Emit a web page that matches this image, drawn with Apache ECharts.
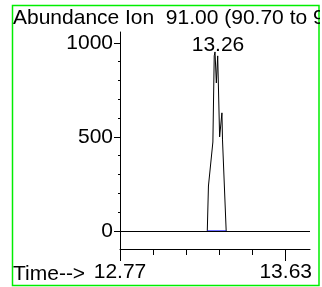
<!DOCTYPE html>
<html>
<head>
<meta charset="utf-8">
<script src="https://cdn.jsdelivr.net/npm/echarts@6/dist/echarts.min.js"></script>
<style>
  html, body { margin: 0; padding: 0; background: #fff; }
  #c { width: 320px; height: 287px; overflow: hidden; }
</style>
</head>
<body>
<div id="c"></div>
<script>
// ---- data ----
const times = [13.223, 13.229, 13.252, 13.259, 13.263, 13.270, 13.277, 13.287, 13.299, 13.302, 13.321];
const abundances = [0, 239, 473, 931, 952, 787, 931, 500, 628, 484, 0];
const baselineTimes = [13.223, 13.321];
const baselineValues = [0, 0];
const xRange = [12.77, 13.756];
const yRange = [-96, 1058];
const xLabelTicks = [12.77, 13.63];
const xSmallTicks = [12.942, 13.114, 13.286, 13.458];
const yLabelTicks = [0, 500, 1000];
const ySmallTicks = [100, 200, 300, 400, 600, 700, 800, 900];
const yTitle = 'Abundance';
const ionTitle = 'Ion  91.00 (90.70 to 91.70)';
const xTitle = 'Time-->';

const FONT = '"Liberation Sans", Arial, sans-serif';
let peakIdx = 0;
abundances.forEach((v, i) => { if (v > abundances[peakIdx]) peakIdx = i; });

const chart = echarts.init(document.getElementById('c'), null, { renderer: 'canvas' });
chart.setOption({
  animation: false,
  backgroundColor: '#fff',
  grid: { left: 120, right: 10, top: 32, bottom: 38 },
  xAxis: [
    {
      type: 'value', min: xRange[0], max: xRange[1], position: 'bottom',
      axisLine: { onZero: false, lineStyle: { color: '#000', width: 1 } },
      axisTick: { customValues: xLabelTicks, length: 12, lineStyle: { color: '#000' } },
      axisLabel: { customValues: xLabelTicks, formatter: v => v.toFixed(2), fontSize: 21, fontFamily: FONT, color: '#000', margin: 13 },
      splitLine: { show: false }
    },
    {
      type: 'value', min: xRange[0], max: xRange[1], position: 'bottom',
      axisLine: { show: false, onZero: false },
      axisTick: { customValues: xSmallTicks, length: 6, lineStyle: { color: '#000' } },
      axisLabel: { show: false },
      splitLine: { show: false }
    }
  ],
  yAxis: [
    {
      type: 'value', min: yRange[0], max: yRange[1], position: 'left',
      axisLine: { show: true, onZero: false, lineStyle: { color: '#000', width: 1 } },
      axisTick: { show: true, customValues: yLabelTicks, length: 6, lineStyle: { color: '#000' } },
      axisLabel: { customValues: yLabelTicks, formatter: v => String(v), fontSize: 21, fontFamily: FONT, color: '#000', margin: 7 },
      splitLine: { show: false }
    },
    {
      type: 'value', min: yRange[0], max: yRange[1], position: 'left',
      axisLine: { show: false, onZero: false },
      axisTick: { show: true, customValues: ySmallTicks, length: 2, lineStyle: { color: '#000' } },
      axisLabel: { show: false },
      splitLine: { show: false }
    }
  ],
  series: [
    {
      type: 'line', xAxisIndex: 0, yAxisIndex: 0,
      data: times.map((t, i) => [t, abundances[i]]),
      symbol: 'none', lineStyle: { color: '#000', width: 1 },
      markLine: {
        silent: true, symbol: 'none', label: { show: false },
        lineStyle: { color: '#000', width: 1, type: 'solid' },
        data: [{ yAxis: 0 }]
      },
      markPoint: {
        symbol: 'circle', symbolSize: 0,
        label: { show: true, position: 'top', distance: -4, offset: [3, 0], formatter: '{c}', fontSize: 21, fontFamily: FONT, color: '#000' },
        data: [{ coord: [times[peakIdx], abundances[peakIdx]], value: times[peakIdx].toFixed(2) }]
      },
      z: 3
    },
    {
      type: 'line', xAxisIndex: 0, yAxisIndex: 0,
      data: baselineTimes.map((t, i) => [t, baselineValues[i]]),
      symbol: 'none', lineStyle: { color: '#0000ff', width: 1 }, z: 4
    }
  ],
  graphic: [
    { type: 'rect', shape: { x: 12.5, y: 5.5, width: 306.5, height: 280 }, style: { fill: 'none', stroke: '#00ee00', lineWidth: 1.5 }, z: 10 },
    { type: 'text', x: 13, y: 18.5, style: { text: yTitle, fontSize: 21, fontFamily: FONT, fill: '#000', verticalAlign: 'middle', align: 'left' }, z: 11 },
    { type: 'text', x: 125, y: 18.5, style: { text: ionTitle, fontSize: 21, fontFamily: FONT, fill: '#000', verticalAlign: 'middle', align: 'left' }, z: 11 },
    { type: 'text', x: 13, y: 274, style: { text: xTitle, fontSize: 21, fontFamily: FONT, fill: '#000', verticalAlign: 'middle', align: 'left' }, z: 11 }
  ]
});
</script>
</body>
</html>
